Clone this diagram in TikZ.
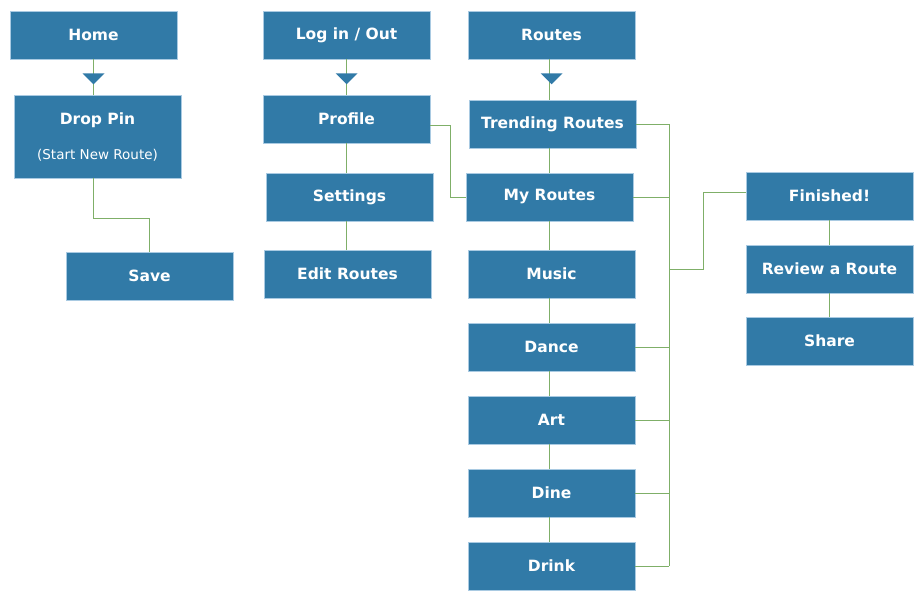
\documentclass[tikz,border=0pt]{standalone}
\usepackage{fontspec}
\setmainfont{DejaVu Sans}
\usetikzlibrary{calc}
\definecolor{boxblue}{HTML}{317AA7}
\definecolor{boxedge}{HTML}{A9CAE2}
\definecolor{linkgreen}{HTML}{7FAF68}
\tikzset{
  page/.style={fill=boxblue, draw=boxedge, line width=0.5pt, minimum width=167pt,
    minimum height=48pt, inner sep=0pt, text=white, font=\fontsize{15.5}{18}\selectfont\bfseries},
  link/.style={draw=linkgreen, line width=1pt},
}
% down pointing marker under a box
\newcommand{\pointer}[1]{\fill[boxblue] ($(#1.south)+(-11,14)$) -- ++(22,0) -- ++(-11,11) -- cycle;}
\begin{document}
\begin{tikzpicture}[x=1pt, y=-1pt]
\useasboundingbox (0,0) rectangle (923,600);
% home column
\node[page] (home) at (93.5,35) {Home};
\node[page, minimum height=83pt, align=center] (droppin) at (97.5,136.5)
  {Drop Pin\\[17pt]{\fontsize{13.5}{16}\selectfont\mdseries (Start New Route)}};
\node[page] (save) at (149.5,276) {Save};
% account column
\node[page] (login) at (346.5,35) {Log in / Out};
\node[page] (profile) at (346.5,119) {Profile};
\node[page] (settings) at (349.5,197) {Settings};
\node[page] (editroutes) at (347.5,274) {Edit Routes};
% routes column
\node[page] (routes) at (551.5,35) {Routes};
\node[page] (trending) at (552.5,124) {Trending Routes};
\node[page] (myroutes) at (549.5,197) {My Routes};
\node[page] (music) at (551.5,274) {Music};
\node[page] (dance) at (551.5,347) {Dance};
\node[page] (art) at (551.5,420) {Art};
\node[page] (dine) at (551.5,493) {Dine};
\node[page] (drink) at (551.5,566) {Drink};
% end of route
\node[page] (finished) at (829.5,196) {Finished!};
\node[page] (review) at (829.5,269) {Review a Route};
\node[page] (share) at (829.5,341) {Share};
\coordinate (bus) at (669,0);

\draw[link] (home.south) -- (home.south |- droppin.north);
\draw[link] (home.south |- droppin.south) -- ++(0,40) -| (save.north);
\draw[link] (login.south) -- (login.south |- profile.north);
\draw[link] (profile.south) -- (profile.south |- settings.north);
\draw[link] (profile.south |- settings.south) -- (profile.south |- editroutes.north);
\draw[link] ([yshift=-6pt]profile.east) -- ++(20,0) |- (myroutes.west);
\foreach \a/\b in {routes/trending, trending/myroutes, myroutes/music, music/dance,
    dance/art, art/dine, dine/drink}
  \draw[link] (myroutes.center |- \a.south) -- (myroutes.center |- \b.north);
\draw[link] (trending.east -| bus) -- (drink.east -| bus);
\foreach \n in {trending, myroutes, dance, art, dine, drink}
  \draw[link] (\n.east) -- (\n.east -| bus);
\draw[link] (bus |- review) -- ++(34,0) |- ([yshift=4pt]finished.west);
\draw[link] (finished.south) -- (review.north);
\draw[link] (review.south) -- (share.north);
\pointer{home}
\pointer{login}
\pointer{routes}
\end{tikzpicture}
\end{document}
